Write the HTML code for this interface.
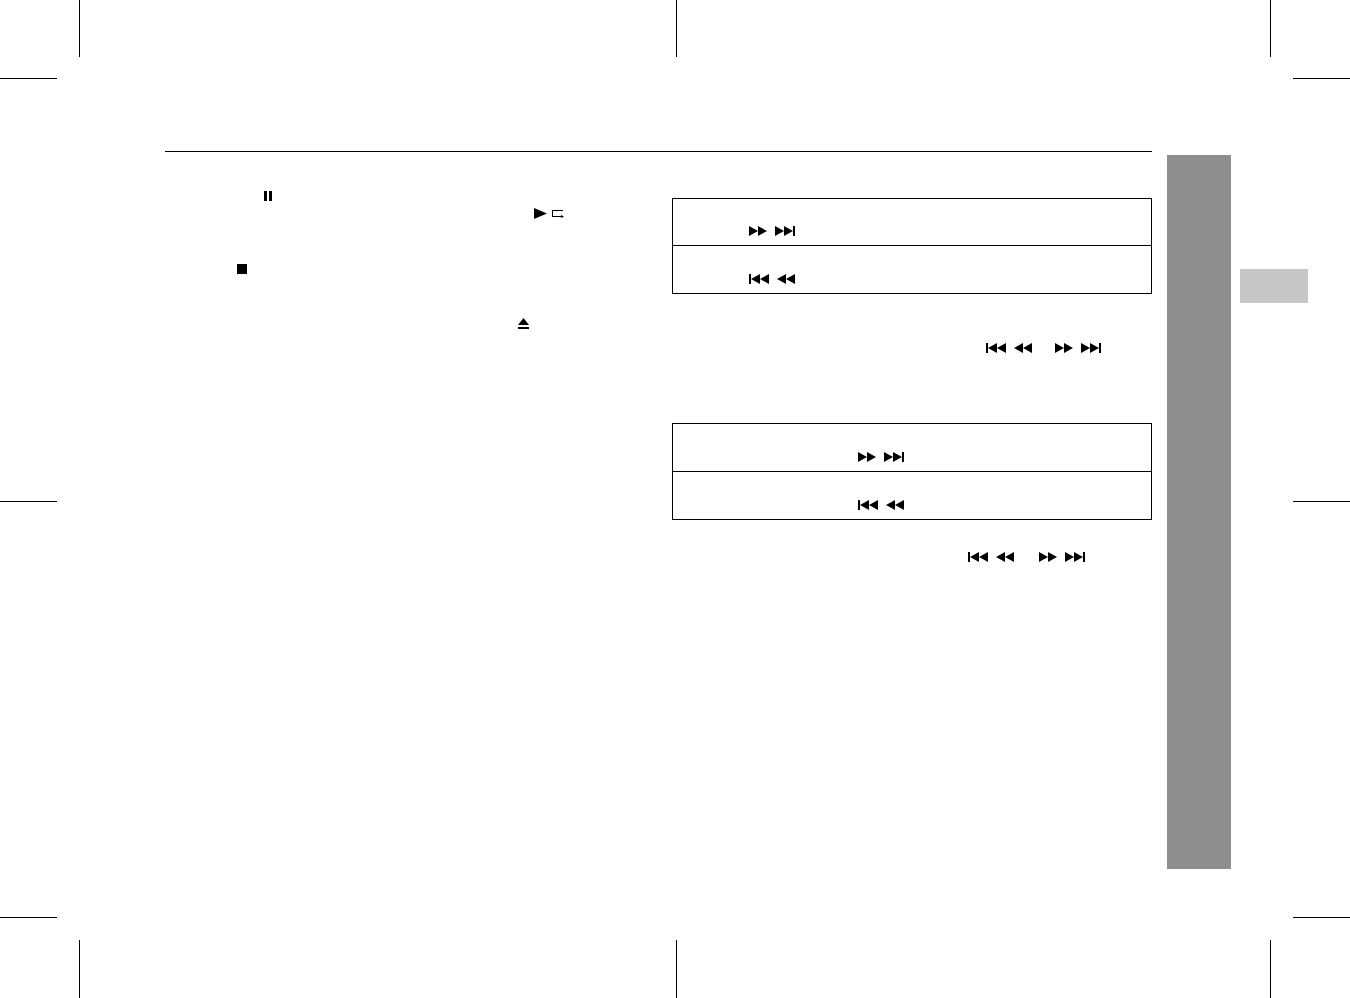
<!DOCTYPE html>
<html><head><meta charset="utf-8"><style>
html,body{margin:0;padding:0;background:#fff;width:1350px;height:998px;overflow:hidden}
</style></head><body>
<svg width="1350" height="998" viewBox="0 0 1350 998" xmlns="http://www.w3.org/2000/svg">
<defs>
<g id="ff"><path d="M0 0 L9 5 L0 10Z M9 0 L18 5 L9 10Z" fill="#000"/></g>
<g id="ffn"><path d="M0 0 L9 5 L0 10Z M9 0 L18 5 L9 10Z" fill="#000"/><rect x="18" y="0" width="2" height="10" fill="#000"/></g>
<g id="rw"><path d="M9 0 L0 5 L9 10Z M18 0 L9 5 L18 10Z" fill="#000"/></g>
<g id="rwp"><rect x="0" y="0" width="2" height="10" fill="#000"/><path d="M11 0 L2 5 L11 10Z M20 0 L11 5 L20 10Z" fill="#000"/></g>
</defs>
<g stroke="#000" stroke-width="1" fill="none">
<line x1="79.5" y1="0" x2="79.5" y2="57"/><line x1="676.5" y1="0" x2="676.5" y2="57"/><line x1="1270.5" y1="0" x2="1270.5" y2="57"/>
<line x1="79.5" y1="940" x2="79.5" y2="998"/><line x1="676.5" y1="940" x2="676.5" y2="998"/><line x1="1270.5" y1="940" x2="1270.5" y2="998"/>
<line x1="0" y1="78.5" x2="57" y2="78.5"/><line x1="1293" y1="78.5" x2="1350" y2="78.5"/>
<line x1="0" y1="501.5" x2="57" y2="501.5"/><line x1="1293" y1="501.5" x2="1350" y2="501.5"/>
<line x1="0" y1="917.5" x2="57" y2="917.5"/><line x1="1293" y1="917.5" x2="1350" y2="917.5"/>
<line x1="165" y1="151.5" x2="1152" y2="151.5"/>
<rect x="672.5" y="198.5" width="479" height="95"/><line x1="672" y1="245.5" x2="1152" y2="245.5"/>
<rect x="672.5" y="423.5" width="479" height="96"/><line x1="672" y1="471.5" x2="1152" y2="471.5"/>
</g>
<rect x="1167" y="155" width="64" height="714" fill="#8e8e8e"/>
<rect x="1240" y="269" width="68" height="34" fill="#c6c6c6"/>
<rect x="264" y="191" width="3" height="10" fill="#000"/><rect x="269" y="191" width="3" height="10" fill="#000"/>
<path d="M534 208 L547 213.5 L534 219Z" fill="#000"/>
<path d="M563 210.5 L552.5 210.5 L552.5 216.5 L562 216.5" fill="none" stroke="#000" stroke-width="1"/>
<path d="M561 215 L564 216.5 L561 218Z" fill="#000"/>
<rect x="237" y="264" width="10" height="10" fill="#000"/>
<path d="M518 325 L523.5 318 L529 325Z" fill="#000"/><rect x="518" y="327" width="11" height="2" fill="#000"/>
<use href="#ff" x="749" y="226"/><use href="#ffn" x="775" y="226"/>
<use href="#rwp" x="749" y="274"/><use href="#rw" x="777" y="274"/>
<use href="#rwp" x="986" y="343"/><use href="#rw" x="1014" y="343"/>
<use href="#ff" x="1055" y="343"/><use href="#ffn" x="1081" y="343"/>
<use href="#ff" x="858" y="452"/><use href="#ffn" x="884" y="452"/>
<use href="#rwp" x="858" y="500"/><use href="#rw" x="886" y="500"/>
<use href="#rwp" x="968" y="552"/><use href="#rw" x="996" y="552"/>
<use href="#ff" x="1039" y="552"/><use href="#ffn" x="1065" y="552"/>
</svg>
</body></html>
